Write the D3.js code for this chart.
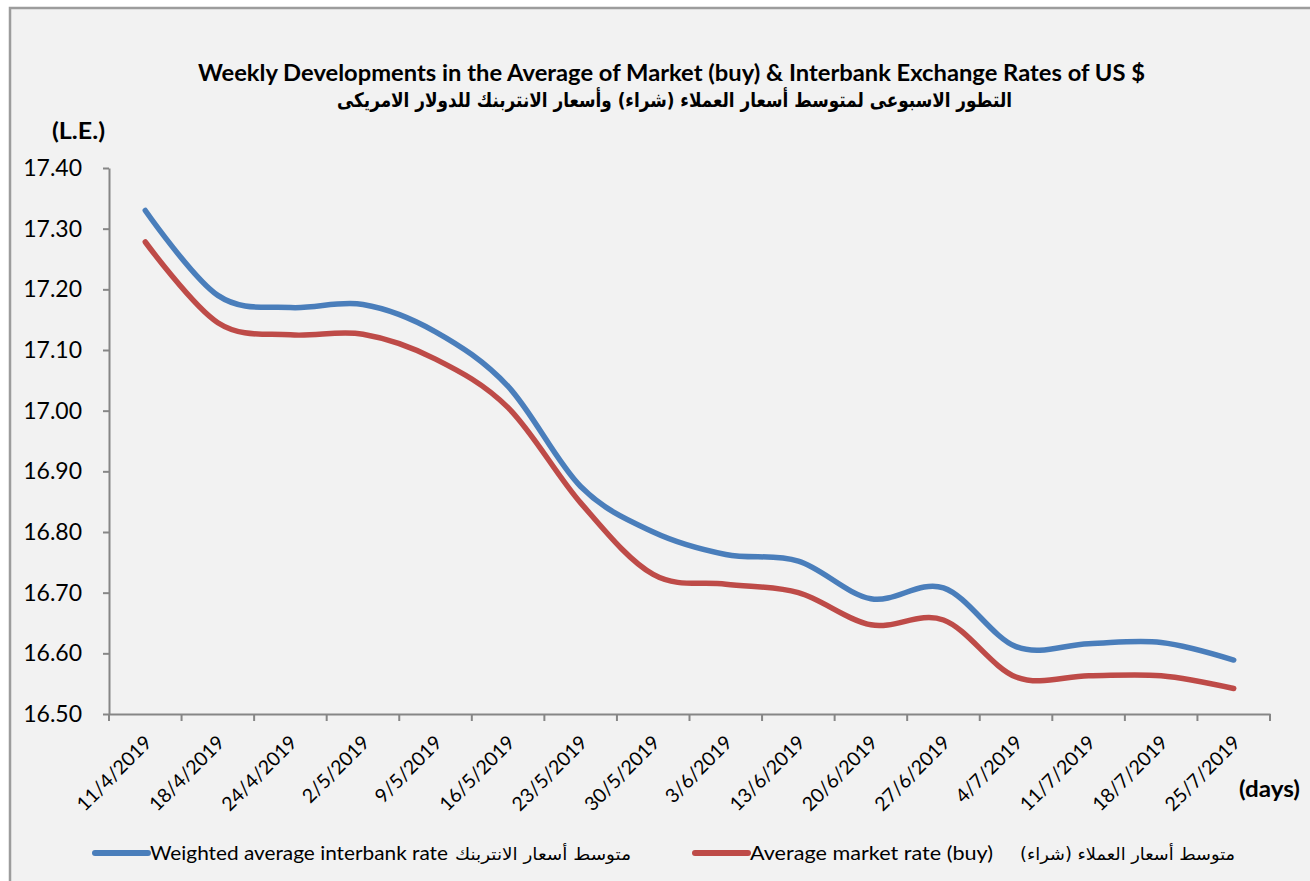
<!DOCTYPE html>
<html>
<head>
<meta charset="utf-8">
<script src="https://cdnjs.cloudflare.com/ajax/libs/d3/7.8.5/d3.min.js"></script>
<style>
  body { margin: 0; background: #fff; }
  svg text { font-family: Lato, "DejaVu Sans", sans-serif; fill: #000; }
</style>
</head>
<body>
<div class="chart"></div>
<script>
// weekly dates (category axis)
var dates = ["11/4/2019", "18/4/2019", "24/4/2019", "2/5/2019", "9/5/2019", "16/5/2019",
             "23/5/2019", "30/5/2019", "3/6/2019", "13/6/2019", "20/6/2019", "27/6/2019",
             "4/7/2019", "11/7/2019", "18/7/2019", "25/7/2019"];

// weighted average interbank rate (blue)
var interbankRate = [17.33, 17.19, 17.17, 17.175, 17.13, 17.04, 16.875, 16.80,
                     16.763, 16.752, 16.69, 16.708, 16.611, 16.616, 16.618, 16.589];

// average market rate, buy (red)
var marketRate = [17.278, 17.145, 17.125, 17.126, 17.085, 17.005, 16.848, 16.73,
                  16.714, 16.70, 16.647, 16.655, 16.561, 16.563, 16.563, 16.542];

var yTicks = [16.5, 16.6, 16.7, 16.8, 16.9, 17.0, 17.1, 17.2, 17.3, 17.4];

var blue = "#4a7ebb", red = "#be4b48", axisGrey = "#868686";

var svg = d3.select(".chart").append("svg")
            .attr("width", 1310)
            .attr("height", 881);

// chart frame
svg.append("rect")
   .attr("x", 10).attr("y", 8)
   .attr("width", 1320).attr("height", 900)
   .attr("fill", "#f2f2f2")
   .attr("stroke", "#9c9c9c")
   .attr("stroke-width", 2.5);

var x = d3.scaleBand().domain(dates).range([109, 1270]);
var y = d3.scaleLinear().domain([16.5, 17.4]).range([714, 168]);

// y axis
var yAxis = svg.append("g")
   .attr("transform", "translate(109,0)")
   .call(d3.axisLeft(y).tickValues(yTicks).tickFormat(d3.format(".2f"))
           .tickSize(6).tickSizeOuter(0).tickPadding(21));
yAxis.select(".domain").attr("stroke", axisGrey).attr("stroke-width", 2);
yAxis.selectAll(".tick line").attr("stroke", axisGrey).attr("stroke-width", 2);
yAxis.selectAll("text").attr("font-size", "23px").style("font-family", "Lato, sans-serif");

// x axis: labels at band centres, ticks at band edges (Excel style)
var xAxis = svg.append("g")
   .attr("transform", "translate(0,714)")
   .call(d3.axisBottom(x).tickSize(0).tickSizeOuter(0));
xAxis.select(".domain").attr("stroke", axisGrey).attr("stroke-width", 2);
xAxis.selectAll("text")
     .attr("x", 0).attr("y", 0)
     .attr("dy", "0.35em")
     .attr("text-anchor", "end")
     .attr("transform", "translate(3,25) rotate(-45)")
     .attr("font-size", "19.5px")
     .style("font-family", "Lato, sans-serif");

svg.append("g").selectAll("line")
   .data(dates.concat(["end"]))
   .enter().append("line")
   .attr("x1", function(d) { return d === "end" ? x.range()[1] : x(d); })
   .attr("x2", function(d) { return d === "end" ? x.range()[1] : x(d); })
   .attr("y1", 714).attr("y2", 721)
   .attr("stroke", axisGrey).attr("stroke-width", 2);

// series
var line = d3.line()
   .x(function(d, i) { return x(dates[i]) + x.bandwidth() / 2; })
   .y(function(d) { return y(d); })
   .curve(d3.curveCardinal.tension(0));

svg.append("path").datum(marketRate)
   .attr("d", line).attr("fill", "none")
   .attr("stroke", red).attr("stroke-width", 5.5).attr("stroke-linecap", "round");

svg.append("path").datum(interbankRate)
   .attr("d", line).attr("fill", "none")
   .attr("stroke", blue).attr("stroke-width", 5.5).attr("stroke-linecap", "round");

// titles
svg.append("text")
   .attr("x", 198).attr("y", 81)
   .attr("font-size", "23px").attr("font-weight", "bold")
   .attr("textLength", 947).attr("lengthAdjust", "spacingAndGlyphs")
   .text("Weekly Developments in the Average of Market (buy) & Interbank Exchange Rates of US $");

svg.append("text")
   .attr("x", 1012).attr("y", 107)
   .attr("direction", "rtl").attr("text-anchor", "start")
   .attr("font-size", "20px").attr("font-weight", "bold")
   .attr("textLength", 675).attr("lengthAdjust", "spacingAndGlyphs")
   .style("font-family", "'DejaVu Sans', sans-serif")
   .text("التطور الاسبوعى لمتوسط أسعار العملاء (شراء) وأسعار الانتربنك للدولار الامريكى");

svg.append("text")
   .attr("x", 52).attr("y", 139)
   .attr("font-size", "22px").attr("font-weight", "bold")
   .attr("textLength", 53).attr("lengthAdjust", "spacingAndGlyphs")
   .text("(L.E.)");

svg.append("text")
   .attr("x", 1239).attr("y", 797)
   .attr("font-size", "22px").attr("font-weight", "bold")
   .attr("textLength", 61).attr("lengthAdjust", "spacingAndGlyphs")
   .text("(days)");

// legend
var legend = [
  {color: blue, x: 95, en: "Weighted average interbank rate", enW: 298, ar: "متوسط أسعار الانتربنك", arX: 631, arW: 176},
  {color: red, x: 695, en: "Average market rate (buy)", enW: 243, ar: "متوسط أسعار العملاء (شراء)", arX: 1235, arW: 215}
];

legend.forEach(function(l) {
  svg.append("line")
     .attr("x1", l.x).attr("x2", l.x + 53)
     .attr("y1", 853).attr("y2", 853)
     .attr("stroke", l.color).attr("stroke-width", 6).attr("stroke-linecap", "round");
  svg.append("text")
     .attr("x", l.x + 55).attr("y", 860)
     .attr("font-size", "19px")
     .attr("textLength", l.enW).attr("lengthAdjust", "spacingAndGlyphs")
     .text(l.en);
  svg.append("text")
     .attr("x", l.arX).attr("y", 860)
     .attr("direction", "rtl").attr("text-anchor", "start")
     .attr("font-size", "17px")
     .attr("textLength", l.arW).attr("lengthAdjust", "spacingAndGlyphs")
     .style("font-family", "'DejaVu Sans', sans-serif")
     .text(l.ar);
});
</script>
</body>
</html>
